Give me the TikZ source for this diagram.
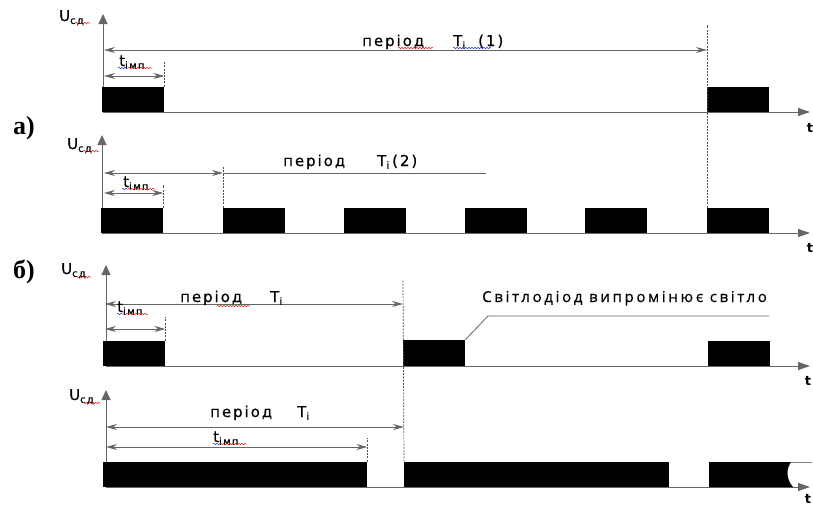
\documentclass[tikz,border=0pt]{standalone}
\usepackage{fontspec}
\setmainfont{DejaVu Sans}
\newfontfamily\lblfont[LetterSpace=13,FakeBold=0.6]{DejaVu Sans}
\newfontfamily\notefont[LetterSpace=18,FakeBold=0.5]{Open Sans}
\newfontfamily\markfont{Liberation Serif}
\usetikzlibrary{arrows.meta,decorations.pathmorphing}
\newcommand{\subtx}[1]{\raisebox{-0.35ex}{\fontsize{10}{10}\selectfont #1}}
\definecolor{spellred}{RGB}{225,30,30}
\definecolor{spellblue}{RGB}{40,60,200}

\begin{document}
\begin{tikzpicture}[x=1pt,y=-1pt,line join=miter]
\tikzset{
  axis/.style={draw=black!60, line width=0.9pt, -{Triangle[length=12pt,width=8pt]}},
  yaxis/.style={draw=black!60, line width=0.9pt, -{Triangle[length=10pt,width=9pt]}},
  dimline/.style={draw=black!60, line width=0.8pt, {Stealth[length=11pt,width=6pt]}-{Stealth[length=11pt,width=6pt]}},
  plain/.style={draw=black!60, line width=0.8pt},
  guide/.style={draw=black!70, line width=0.7pt, dash pattern=on 2pt off 1.2pt},
  pulse/.style={fill=black, inner sep=0pt, minimum height=25pt, minimum width=62pt, anchor=south west},
  lbl/.style={font=\lblfont\fontsize{15}{15}\selectfont, inner sep=0pt, anchor=base west},
  tlbl/.style={font=\bfseries\fontsize{13}{13}\selectfont, inner sep=0pt},
  panellbl/.style={font=\markfont\bfseries\fontsize{26}{26}\selectfont, inner sep=0pt},
  squig/.style={decorate, decoration={snake,amplitude=0.7pt,segment length=3pt}, line width=0.5pt},
}
\useasboundingbox (0,0) rectangle (813,506);

% а) -- row 1
\coordinate (O1) at (103,112);
\draw[yaxis] (O1) -- (103,14);
\draw[axis] (O1) -- (810,112);
\node[lbl] (U1) at (59,21) {U\subtx{сд}};
\node[tlbl] (t1) at (810,128) {t};
\node[pulse] (a1) at (102,112) {};
\node[pulse] (a2) at (707,112) {};
\draw[guide] (a1.north east) -- ++(0,-25);
\draw[dimline] (104,50) -- (a2.north west |- 0,50);
\draw[dimline] (104,76) -- (a1.north east |- 0,76);
\node[lbl] (p1) at (362,46) {період\hspace{29pt}T\subtx{i}\hspace{13pt}(1)};
\node[lbl] (ti1) at (119,66) {t\subtx{імп}};

% а) -- row 2
\coordinate (O2) at (102,233);
\draw[yaxis] (O2) -- (102,135);
\draw[axis] (O2) -- (810,233);
\node[lbl] (U2) at (67,149) {U\subtx{сд}};
\node[tlbl] (t2) at (810,248) {t};
\foreach \x [count=\i] in {101,223,344,465,585,707}
  \node[pulse] (b\i) at (\x,233) {};
\draw[guide] (b1.north east) -- ++(0,-23);
\draw[guide] (b2.north west) -- ++(0,-41);
\draw[guide] (b6.north west) -- (a2.north west |- 0,25);
\draw[dimline] (104,173) -- (b2.north west |- 0,173);
\draw[plain] (b2.north west |- 0,173) -- (486,173);
\draw[dimline] (104,193) -- (b1.north east |- 0,193);
\node[lbl] (p2) at (283,166) {період\hspace{32pt}T\subtx{i}\hspace{3pt}(2)};
\node[lbl] (ti2) at (123,187) {t\subtx{імп}};

% б) -- row 3
\coordinate (O3) at (106,366);
\draw[yaxis] (O3) -- (106,265);
\draw[axis] (O3) -- (810,366);
\node[lbl] (U3) at (61,274) {U\subtx{сд}};
\node[tlbl] (t3) at (808,381) {t};
\node[pulse] (c1) at (103,366) {};
\node[pulse, minimum height=26pt] (c2) at (403,366) {};
\node[pulse] (c3) at (708,366) {};
\draw[guide] (c1.north east) -- ++(0,-24);
\draw[dimline] (105,304) -- (c2.north west |- 0,304);
\draw[dimline] (105,329) -- (c1.north east |- 0,329);
\node[lbl] (p3) at (180,302) {період\hspace{28pt}T\subtx{i}};
\node[lbl] (ti3) at (117,312) {t\subtx{імп}};
\node[inner sep=0pt, anchor=base west, font=\notefont\fontsize{15}{15}\selectfont] (note) at (482,302) {Світлодіод випромінює світло};
\draw[plain] (c2.north east) -- (488,316) -- (769,316);

% б) -- row 4
\coordinate (O4) at (106,487);
\draw[yaxis] (O4) -- (106,390);
\draw[axis] (O4) -- (810,487);
\node[lbl] (U4) at (69,400) {U\subtx{сд}};
\node[tlbl] (t4) at (808,499) {t};
\node[pulse, minimum width=264pt] (d1) at (103,487) {};
\node[pulse, minimum width=265pt] (d2) at (404,487) {};
\fill (709,462) -- (791,462) .. controls (786,469) and (786,479) .. (793,487) -- (709,487) -- cycle;
\draw[draw=black!50, line width=0.6pt] (791,462) -- (812,462);
\draw[guide] (d1.north east) -- ++(0,-24);
\draw[guide] (d2.north west) -- (c2.north west |- 0,280);
\draw[dimline] (106,427) -- (d2.north west |- 0,427);
\draw[dimline] (106,447) -- (d1.north east |- 0,447);
\node[lbl] (p4) at (210,417) {період\hspace{25pt}T\subtx{i}};
\node[lbl] (ti4) at (213,442) {t\subtx{імп}};

\node[panellbl] (ma) at (24,128) {а)};
\node[panellbl] (mb) at (24,272) {б)};

% spelling marks
\foreach \a/\b/\y in {75/90/23, 128/152/68, 398/433/48, 83/99/151, 128/155/189,
                      76/91/277, 217/250/306, 123/148/314, 83/100/403, 220/247/444}
  \draw[squig, spellred] (\a,\y) -- (\b,\y);
\foreach \a/\b/\y in {118/128/68, 453/491/48, 122/128/189, 117/123/314, 213/220/444}
  \draw[squig, spellblue] (\a,\y) -- (\b,\y);
\end{tikzpicture}
\end{document}
